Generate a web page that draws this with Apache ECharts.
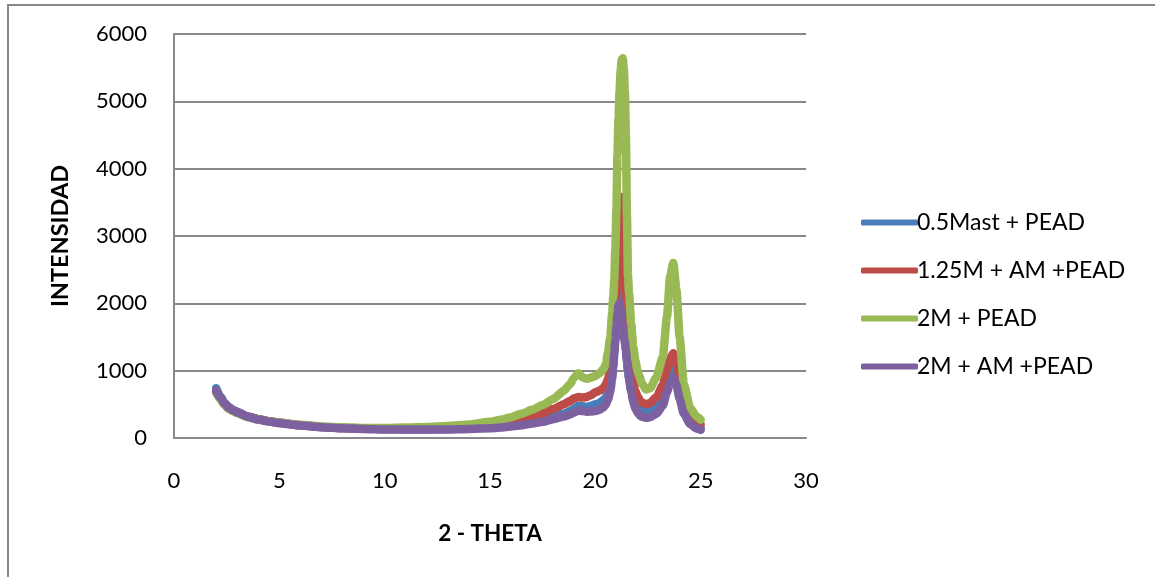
<!DOCTYPE html>
<html>
<head>
<meta charset="utf-8">
<script src="https://cdn.jsdelivr.net/npm/echarts@6/dist/echarts.min.js"></script>
<style>
  html, body { margin: 0; padding: 0; background: #fff; }
  #chart { width: 1155px; height: 577px; }
</style>
</head>
<body>
<div id="chart"></div>
<script>
// Diffraction scan positions (2-theta, degrees)
const twoTheta = [
  2.0, 2.2, 2.4, 2.6, 2.8, 3.0, 3.5, 4.0, 4.5, 5.0, 6.0, 7.0, 8.0, 9.0, 10.0,
  11.0, 12.0, 13.0, 14.0,
  15.0, 15.5, 16.0, 16.5, 17.0, 17.5, 18.0, 18.5, 18.8, 19.0, 19.2, 19.4, 19.6, 19.8,
  20.0, 20.2, 20.4, 20.5, 20.6, 20.7, 20.8, 20.85, 20.9, 20.95,
  21.0, 21.05, 21.1, 21.15, 21.2, 21.25, 21.3, 21.35, 21.4, 21.45, 21.5, 21.55, 21.6,
  21.7, 21.8, 21.9, 22.0, 22.1, 22.2, 22.4, 22.6,
  22.9, 23.2, 23.4, 23.55, 23.7, 23.85, 24.0, 24.2, 24.5, 24.8, 25.0
];

// Intensity per sample
const mast05Pead = [
  740, 620, 520, 460, 420, 390, 320, 280, 250, 225, 190, 165, 150, 140, 135,
  130, 130, 135, 145,
  160, 175, 190, 215, 240, 280, 320, 360, 400, 440, 480, 470, 460, 480,
  500, 520, 570, 610, 680, 780, 950, 1100, 1300, 1500,
  1750, 2000, 2300, 2600, 2640, 2350, 2050, 1800, 1550, 1350, 1150, 1000, 880,
  700, 600, 530, 480, 450, 430, 410, 430,
  500, 640, 830, 960, 1010, 900, 680, 420, 250, 170, 150
];
const m125AmPead = [
  700, 590, 510, 450, 410, 380, 320, 280, 250, 225, 190, 165, 150, 140, 135,
  135, 135, 140, 150,
  170, 190, 220, 260, 310, 370, 430, 500, 550, 590, 610, 600, 610, 640,
  680, 700, 750, 800, 880, 1000, 1250, 1450, 1700, 1950,
  2150, 2350, 2600, 3100, 3500, 3580, 3450, 3000, 2500, 2200, 1950, 1800, 1500,
  1100, 850, 700, 620, 570, 530, 500, 520,
  610, 780, 1020, 1180, 1260, 1100, 820, 520, 320, 230, 200
];
const m2Pead = [
  680, 570, 490, 430, 400, 370, 310, 275, 250, 225, 195, 170, 160, 150, 150,
  155, 165, 180, 200,
  240, 270, 310, 360, 420, 490, 580, 700, 800, 900, 960, 900, 880, 900,
  920, 960, 1030, 1100, 1270, 1480, 1850, 2100, 2350, 2800,
  3400, 4200, 4750, 5150, 5450, 5620, 5640, 5500, 5150, 4500, 3300, 2400, 2150,
  1700, 1350, 1150, 1000, 910, 820, 720, 740,
  900, 1200, 1800, 2400, 2600, 2200, 1500, 800, 450, 320, 270
];
const m2AmPead = [
  690, 600, 510, 450, 410, 380, 315, 275, 245, 220, 185, 160, 145, 135, 128,
  125, 125, 128, 135,
  145, 155, 170, 190, 215, 240, 280, 320, 350, 380, 410, 400, 390, 395,
  400, 420, 460, 500, 570, 680, 880, 1050, 1250, 1450,
  1650, 1850, 1970, 2000, 1900, 1750, 1600, 1500, 1420, 1300, 1150, 1020, 900,
  700, 540, 440, 380, 340, 315, 300, 310,
  360, 480, 680, 830, 900, 790, 580, 360, 210, 140, 120
];

const seriesNames = ['0.5Mast + PEAD', '1.25M + AM +PEAD', '2M + PEAD', '2M + AM +PEAD'];
const seriesValues = [mast05Pead, m125AmPead, m2Pead, m2AmPead];
const seriesColors = ['#4A7EBB', '#BE4B48', '#98B954', '#7D60A0'];

const xTicks = { min: 0, max: 30, interval: 5 };
const yTicks = { min: 0, max: 6000, interval: 1000 };

const FONT = 'Lato';

const chart = echarts.init(document.getElementById('chart'), null, { renderer: 'canvas' });

chart.setOption({
  animation: false,
  backgroundColor: '#ffffff',
  textStyle: { fontFamily: FONT, color: '#000' },
  graphic: [{
    type: 'rect',
    shape: { x: 8, y: 5, width: 1300, height: 700 },
    style: { fill: 'none', stroke: '#888888', lineWidth: 2 },
    silent: true
  }],
  grid: { left: 174, right: 349, top: 34, bottom: 139, containLabel: false },
  legend: {
    orient: 'vertical',
    left: 856,
    top: 206,
    itemWidth: 57,
    itemHeight: 6,
    itemGap: 25,
    icon: 'roundRect',
    textStyle: { fontFamily: FONT, fontSize: 23, color: '#000', padding: [0, 0, 0, -6] },
    data: seriesNames
  },
  xAxis: {
    type: 'value',
    min: xTicks.min, max: xTicks.max, interval: xTicks.interval,
    name: '2 - THETA',
    nameLocation: 'middle',
    nameGap: 84,
    nameTextStyle: { fontFamily: FONT, fontSize: 22.5, fontWeight: 'bold', color: '#000' },
    axisLine: { show: true, lineStyle: { color: '#888888', width: 2 } },
    axisTick: { show: false },
    splitLine: { show: false },
    axisLabel: { fontFamily: FONT, fontSize: 22, color: '#000', margin: 32 }
  },
  yAxis: {
    type: 'value',
    min: yTicks.min, max: yTicks.max, interval: yTicks.interval,
    name: 'INTENSIDAD',
    nameLocation: 'middle',
    nameRotate: 90,
    nameGap: 102,
    nameTextStyle: { fontFamily: FONT, fontSize: 23.5, fontWeight: 'bold', color: '#000' },
    axisLine: { show: true, lineStyle: { color: '#888888', width: 2 } },
    axisTick: { show: false },
    splitLine: { show: true, lineStyle: { color: '#888888', width: 2 } },
    axisLabel: {
      fontFamily: FONT, fontSize: 22, color: '#000', margin: 27,
      formatter: (v) => String(v)
    }
  },
  series: seriesNames.map((name, i) => ({
    name: name,
    type: 'line',
    showSymbol: false,
    symbol: 'none',
    smooth: 0.2,
    smoothMonotone: 'x',
    color: seriesColors[i],
    lineStyle: { width: 8.5, color: seriesColors[i], cap: 'round', join: 'round' },
    data: twoTheta.map((t, k) => [t, seriesValues[i][k]])
  }))
});
</script>
</body>
</html>
